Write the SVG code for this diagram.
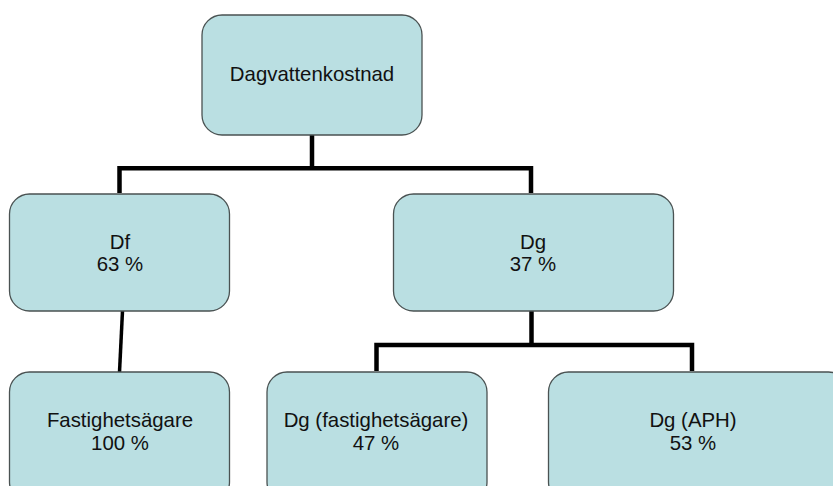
<svg xmlns="http://www.w3.org/2000/svg" width="833" height="486" viewBox="0 0 833 486">
<style>
.box{fill:#badfe2;stroke:#4a5252;stroke-width:1.3}
.t{font-family:"Liberation Sans",Arial,sans-serif;font-size:20.4px;fill:#111;text-anchor:middle}
.c{fill:none;stroke:#000;stroke-width:4.5;stroke-linejoin:miter}
</style>
<rect width="833" height="486" fill="#fff"/>
<g id="connectors">
<polyline class="c" points="119.5,193 119.5,168.3 531,168.3 531,193"/>
<line class="c" x1="312" y1="135" x2="312" y2="168.3"/>
<line x1="122.5" y1="311" x2="119.5" y2="372" stroke="#000" stroke-width="3.5"/>
<polyline class="c" points="376.5,371 376.5,345 692,345 692,371"/>
<line class="c" x1="531.5" y1="311" x2="531.5" y2="345"/>
</g>
<g id="n-dagvattenkostnad">
<rect class="box" x="202" y="15" width="220" height="120" rx="20"/>
<text class="t" x="312" y="81">Dagvattenkostnad</text>
</g>
<g id="n-df">
<rect class="box" x="9.5" y="194" width="220" height="117" rx="20"/>
<text class="t" x="120" y="248.5">Df</text>
<text class="t" x="120" y="271">63 %</text>
</g>
<g id="n-dg">
<rect class="box" x="393.5" y="194" width="280" height="117" rx="20"/>
<text class="t" x="533" y="248.5">Dg</text>
<text class="t" x="533" y="271">37 %</text>
</g>
<g id="n-fastighetsagare">
<rect class="box" x="9.5" y="372" width="220" height="130" rx="20"/>
<text class="t" x="120" y="427">Fastighetsägare</text>
<text class="t" x="120" y="449.5">100 %</text>
</g>
<g id="n-dg-fastighetsagare">
<rect class="box" x="267" y="372" width="220" height="130" rx="20"/>
<text class="t" x="376" y="427">Dg (fastighetsägare)</text>
<text class="t" x="376" y="449.5">47 %</text>
</g>
<g id="n-dg-aph">
<rect class="box" x="548.5" y="372" width="300" height="130" rx="20"/>
<text class="t" x="693" y="427">Dg (APH)</text>
<text class="t" x="693" y="449.5">53 %</text>
</g>
</svg>
